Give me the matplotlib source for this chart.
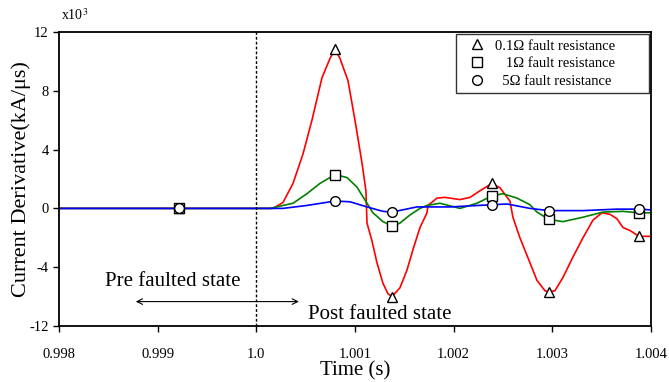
import matplotlib.pyplot as plt

plt.rcParams['font.family'] = ['Liberation Serif', 'DejaVu Serif']
plt.rcParams['mathtext.fontset'] = 'stix'

# Data (values in x10^3 kA/us)
t_red = [0.998, 1.000057, 1.000169, 1.00027, 1.000372, 1.000473, 1.000564, 1.000666,
         1.000747, 1.000797, 1.000848, 1.000929, 1.001, 1.001071, 1.001111, 1.001122,
         1.001172, 1.001223, 1.001284, 1.001334, 1.001375, 1.001456, 1.001527, 1.001588,
         1.001659, 1.00173, 1.00174, 1.001831, 1.001912, 1.002064, 1.002166, 1.002267,
         1.002389, 1.00247, 1.002571, 1.002601, 1.002672, 1.002774, 1.002845, 1.002926,
         1.002966, 1.003027, 1.003108, 1.00321, 1.003311, 1.003412, 1.003503, 1.003584,
         1.003655, 1.003716, 1.003787, 1.003878, 1.004]
v_red = [0, 0, 0, 0.4, 1.7, 3.7, 6.0, 8.9,
         10.2, 10.85, 10.2, 8.7, 6.0, 3.1, 1.2, -1.0,
         -2.2, -3.7, -5.1, -5.8, -6.0, -5.4, -4.2, -2.8,
         -1.3, -0.3, 0.2, 0.7, 0.75, 0.6, 0.75, 1.2,
         1.7, 1.4, 0.5, -0.6, -2.0, -3.7, -4.9, -5.6,
         -5.7, -5.6, -4.7, -3.3, -2.0, -0.8, -0.3, -0.4,
         -0.7, -1.3, -1.5, -1.9, -1.9]

t_green = [0.998, 1.000138, 1.000372, 1.000513, 1.000645, 1.000797, 1.000919, 1.00102,
           1.001122, 1.001182, 1.001284, 1.001375, 1.001456, 1.001557, 1.001659, 1.00173,
           1.001861, 1.002064, 1.002236, 1.002389, 1.0025, 1.002642, 1.002774, 1.002845,
           1.002966, 1.003108, 1.003311, 1.003514, 1.003716, 1.003878, 1.004]
v_green = [0, 0, 0.35, 1.0, 1.7, 2.3, 2.1, 1.45,
           0.35, -0.3, -0.9, -1.2, -1.0, -0.45, 0, 0.2,
           0.35, 0.0, 0.35, 0.85, 1.0, 0.7, 0.25, -0.25,
           -0.75, -0.9, -0.6, -0.25, -0.2, -0.3, -0.3]

t_blue = [0.998, 1.00027, 1.000513, 1.000797, 1.00095, 1.001122, 1.001284, 1.001375,
          1.001628, 1.001963, 1.002389, 1.002541, 1.002774, 1.002966, 1.003311, 1.003655,
          1.003878, 1.004]
v_blue = [0, 0, 0.2, 0.5, 0.45, 0.1, -0.2, -0.25,
          0.1, 0.1, 0.25, 0.3, 0, -0.15, -0.15, -0.05,
          -0.05, -0.1]

# marker positions
t_mark = [0.99922, 1.000797, 1.001375, 1.002389, 1.002966, 1.003878]
m_red = [0, 10.85, -6.0, 1.7, -5.7, -1.9]
m_green = [0, 2.3, -1.2, 0.85, -0.75, -0.3]
m_blue = [0, 0.5, -0.25, 0.25, -0.15, -0.05]

labels = ['0.1\u03a9 fault resistance' + ' ' * 8,
          '   1\u03a9 fault resistance' + ' ' * 8,
          '  5\u03a9 fault resistance' + ' ' * 8]

fig = plt.figure(figsize=(6.69, 3.82), dpi=100)
ax = fig.add_axes([0.0882, 0.1466, 0.8848, 0.7696])

ax.plot(t_red, v_red, color='#ff0000', lw=1.2)
ax.plot(t_green, v_green, color='#008000', lw=1.2)
ax.plot(t_blue, v_blue, color='#0000ff', lw=1.2)

mk = dict(ls='none', mfc='white', mec='black', ms=7, mew=1.0)
ax.plot(t_mark, m_red, marker='^', label=labels[0], **mk)
ax.plot(t_mark, m_green, marker='s', label=labels[1], **mk)
ax.plot(t_mark, m_blue, marker='o', label=labels[2], **mk)

ax.axvline(1.0, color='black', ls='--', lw=1.0, dashes=(2, 1.5))

# arrow and state labels
ax.annotate('', xy=(0.99875, -6.34), xytext=(1.00046, -6.34),
            arrowprops=dict(arrowstyle='<->', color='black', lw=0.8))
ax.text(0.99847, -4.95, 'Pre faulted state', fontsize=15, va='center', ha='left')
ax.text(1.00052, -7.2, 'Post faulted state', fontsize=15, va='center', ha='left')

ax.set_xlim(0.998, 1.004)
ax.set_ylim(-8, 12)
ax.set_xticks([0.998, 0.999, 1.0, 1.001, 1.002, 1.003, 1.004])
ax.set_xticklabels(['0.998', '0.999', '1.0', '1.001', '1.002', '1.003', '1.004'])
ax.set_yticks([-8, -4, 0, 4, 8, 12])
ax.set_yticklabels(['-12', '-4', '0', '4', '8', '12'])
ax.tick_params(direction='out', length=4, width=1, labelsize=10.5)
ax.tick_params(axis='x', pad=12)

for s in ax.spines.values():
    s.set_linewidth(1.3)

ax.set_xlabel('Time (s)', fontsize=15, labelpad=0)
ax.set_ylabel('Current Derivative(kA/\u03bcs)', fontsize=16, labelpad=-1)
ax.text(0.003, 1.03, 'x10$^3$', transform=ax.transAxes, fontsize=10, ha='left', va='bottom')

leg = ax.legend(loc='upper right', fontsize=10.5, frameon=True, fancybox=False,
                edgecolor='black', handlelength=2.2, handletextpad=0.1,
                borderaxespad=0.15, labelspacing=0.3, borderpad=0.35)
leg.get_frame().set_linewidth(1.0)

fig.savefig('out.png', dpi=100)
